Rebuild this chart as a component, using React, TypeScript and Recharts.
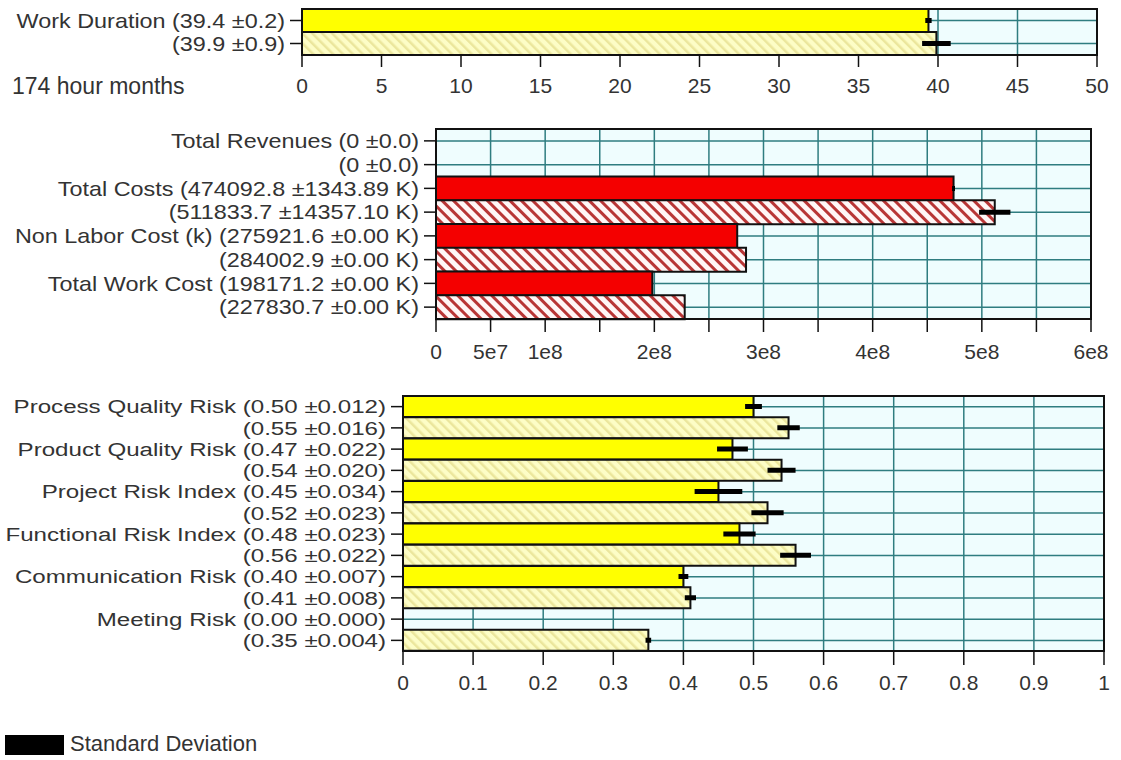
import React from "react"
import {
  BarChart,
  Bar,
  XAxis,
  YAxis,
  CartesianGrid,
  Cell,
  ErrorBar,
  ReferenceArea,
} from "recharts"

// Work duration (months)
const workLabels = ["Work Duration (39.4 ±0.2)", "(39.9 ±0.9)"]
const workMeans = [39.4, 39.9]
const workStds = [0.2, 0.9]
const workTicks = [0, 5, 10, 15, 20, 25, 30, 35, 40, 45, 50]

// Costs (in K)
const costLabels = [
  "Total Revenues (0 ±0.0)",
  "(0 ±0.0)",
  "Total Costs (474092.8 ±1343.89 K)",
  "(511833.7 ±14357.10 K)",
  "Non Labor Cost (k) (275921.6 ±0.00 K)",
  "(284002.9 ±0.00 K)",
  "Total Work Cost (198171.2 ±0.00 K)",
  "(227830.7 ±0.00 K)",
]
const costMeansK = [0, 0, 474092.8, 511833.7, 275921.6, 284002.9, 198171.2, 227830.7]
const costStdsK = [0, 0, 1343.89, 14357.1, 0, 0, 0, 0]
const costTicks = [0, 5e7, 1e8, 1.5e8, 2e8, 2.5e8, 3e8, 3.5e8, 4e8, 4.5e8, 5e8, 5.5e8, 6e8]
const costTickLabels = ["0", "5e7", "1e8", "", "2e8", "", "3e8", "", "4e8", "", "5e8", "", "6e8"]

// Risks
const riskLabels = [
  "Process Quality Risk (0.50 ±0.012)",
  "(0.55 ±0.016)",
  "Product Quality Risk (0.47 ±0.022)",
  "(0.54 ±0.020)",
  "Project Risk Index (0.45 ±0.034)",
  "(0.52 ±0.023)",
  "Functional Risk Index (0.48 ±0.023)",
  "(0.56 ±0.022)",
  "Communication Risk (0.40 ±0.007)",
  "(0.41 ±0.008)",
  "Meeting Risk (0.00 ±0.000)",
  "(0.35 ±0.004)",
]
const riskMeans = [0.5, 0.55, 0.47, 0.54, 0.45, 0.52, 0.48, 0.56, 0.4, 0.41, 0.0, 0.35]
const riskStds = [0.012, 0.016, 0.022, 0.02, 0.034, 0.023, 0.023, 0.022, 0.007, 0.008, 0, 0.004]
const riskTicks = [0, 0.1, 0.2, 0.3, 0.4, 0.5, 0.6, 0.7, 0.8, 0.9, 1]

const FONT = "'Liberation Sans', Arial, sans-serif"
const TEXT = "#333"
const GRID = "#2f7d80"
const PLOT_BG = "#effdfe"
const EDGE = "#111"

const workData = workLabels.map((label, i) => ({ label, value: workMeans[i], std: workStds[i] }))
const costData = costLabels.map((label, i) => ({
  label,
  value: costMeansK[i] * 1000,
  std: costStdsK[i] * 1000,
}))
const riskData = riskLabels.map((label, i) => ({ label, value: riskMeans[i], std: riskStds[i] }))

// left labels are wide and slightly squat in the original, hence the scaleX
function makeLabelTick(fontSize: number, sx: number) {
  return (props: any) => {
    const { x, y, payload } = props
    return (
      <text
        transform={`translate(${x},${y}) scale(${sx},1)`}
        textAnchor="end"
        dy="0.36em"
        fontSize={fontSize}
        fontFamily={FONT}
        fill={TEXT}
      >
        {payload.value}
      </text>
    )
  }
}

function Hatches({ prefix }: { prefix: string }) {
  return (
    <defs>
      <pattern
        id={`${prefix}-yellow`}
        width={7}
        height={7}
        patternUnits="userSpaceOnUse"
        patternTransform="rotate(-45)"
      >
        <rect width={7} height={7} fill="#fdfdc6" />
        <rect width={2.5} height={7} fill="#ebe69c" />
      </pattern>
      <pattern
        id={`${prefix}-red`}
        width={8}
        height={8}
        patternUnits="userSpaceOnUse"
        patternTransform="rotate(-45)"
      >
        <rect width={8} height={8} fill="#fff6f6" />
        <rect width={3} height={8} fill="#b83636" />
      </pattern>
    </defs>
  )
}

interface PanelProps {
  id: string
  data: { label: string; value: number; std: number }[]
  top: number
  height: number
  margin: { top: number; right: number; left: number; bottom: number }
  yWidth: number
  xHeight: number
  domain: [number, number]
  ticks: number[]
  tickFormatter: (v: number, i: number) => string
  tickSize: number
  tickMargin: number
  labelFont: number
  labelScale: number
  solid: string
  hatch: string
}

function Panel(p: PanelProps) {
  return (
    <div style={{ position: "absolute", left: 0, top: p.top }}>
      <BarChart
        width={1121}
        height={p.height}
        data={p.data}
        layout="vertical"
        margin={p.margin}
        barCategoryGap={0}
        barGap={0}
      >
        <Hatches prefix={p.id} />
        <CartesianGrid stroke={GRID} strokeWidth={1.5} fill={PLOT_BG} fillOpacity={1} />
        <XAxis
          type="number"
          domain={p.domain}
          ticks={p.ticks}
          interval={0}
          height={p.xHeight}
          tickSize={p.tickSize}
          tickMargin={p.tickMargin}
          tickFormatter={p.tickFormatter}
          axisLine={{ stroke: EDGE, strokeWidth: 2 }}
          tickLine={{ stroke: EDGE, strokeWidth: 1.5 }}
          tick={{ fontSize: 21, fill: TEXT, fontFamily: FONT }}
        />
        <YAxis
          type="category"
          dataKey="label"
          width={p.yWidth}
          interval={0}
          tickSize={12}
          tickMargin={5}
          axisLine={{ stroke: EDGE, strokeWidth: 2 }}
          tickLine={{ stroke: EDGE, strokeWidth: 1.5 }}
          tick={makeLabelTick(p.labelFont, p.labelScale)}
        />
        <ReferenceArea x1={p.domain[0]} x2={p.domain[1]} fill="none" stroke={EDGE} strokeWidth={2} />
        <Bar dataKey="value" stroke={EDGE} strokeWidth={2} isAnimationActive={false}>
          {p.data.map((_, i) => (
            <Cell key={`c-${i}`} fill={i % 2 === 0 ? p.solid : `url(#${p.id}-${p.hatch})`} />
          ))}
          <ErrorBar dataKey="std" direction="x" width={0} stroke="#000" strokeWidth={5} />
        </Bar>
      </BarChart>
    </div>
  )
}

export default function App() {
  return (
    <div
      style={{
        position: "absolute",
        left: 0,
        top: 0,
        width: 1121,
        height: 760,
        background: "#fff",
        fontFamily: FONT,
        color: TEXT,
      }}
    >
      <Panel
        id="work"
        data={workData}
        top={0}
        height={100}
        margin={{ top: 9, right: 24, left: 0, bottom: 0 }}
        yWidth={302}
        xHeight={45}
        domain={[0, 50]}
        ticks={workTicks}
        tickFormatter={(v) => String(v)}
        tickSize={12}
        tickMargin={11}
        labelFont={20}
        labelScale={1.17}
        solid="#ffff00"
        hatch="yellow"
      />
      <div style={{ position: "absolute", left: 12, top: 73, fontSize: 23, whiteSpace: "nowrap" }}>
        174 hour months
      </div>
      <Panel
        id="cost"
        data={costData}
        top={100}
        height={270}
        margin={{ top: 29, right: 30, left: 0, bottom: 0 }}
        yWidth={436}
        xHeight={51}
        domain={[0, 6e8]}
        ticks={costTicks}
        tickFormatter={(_, i) => costTickLabels[i] ?? ""}
        tickSize={13}
        tickMargin={12}
        labelFont={20}
        labelScale={1.17}
        solid="#f40000"
        hatch="red"
      />
      <Panel
        id="risk"
        data={riskData}
        top={370}
        height={331}
        margin={{ top: 26, right: 17, left: 0, bottom: 0 }}
        yWidth={403}
        xHeight={50}
        domain={[0, 1]}
        ticks={riskTicks}
        tickFormatter={(v) => String(v)}
        tickSize={14}
        tickMargin={10}
        labelFont={19}
        labelScale={1.27}
        solid="#ffff00"
        hatch="yellow"
      />
      <div
        style={{
          position: "absolute",
          left: 5,
          top: 735,
          width: 59,
          height: 20,
          background: "#000",
        }}
      />
      <div style={{ position: "absolute", left: 70, top: 731, fontSize: 22, whiteSpace: "nowrap" }}>
        Standard Deviation
      </div>
    </div>
  )
}
